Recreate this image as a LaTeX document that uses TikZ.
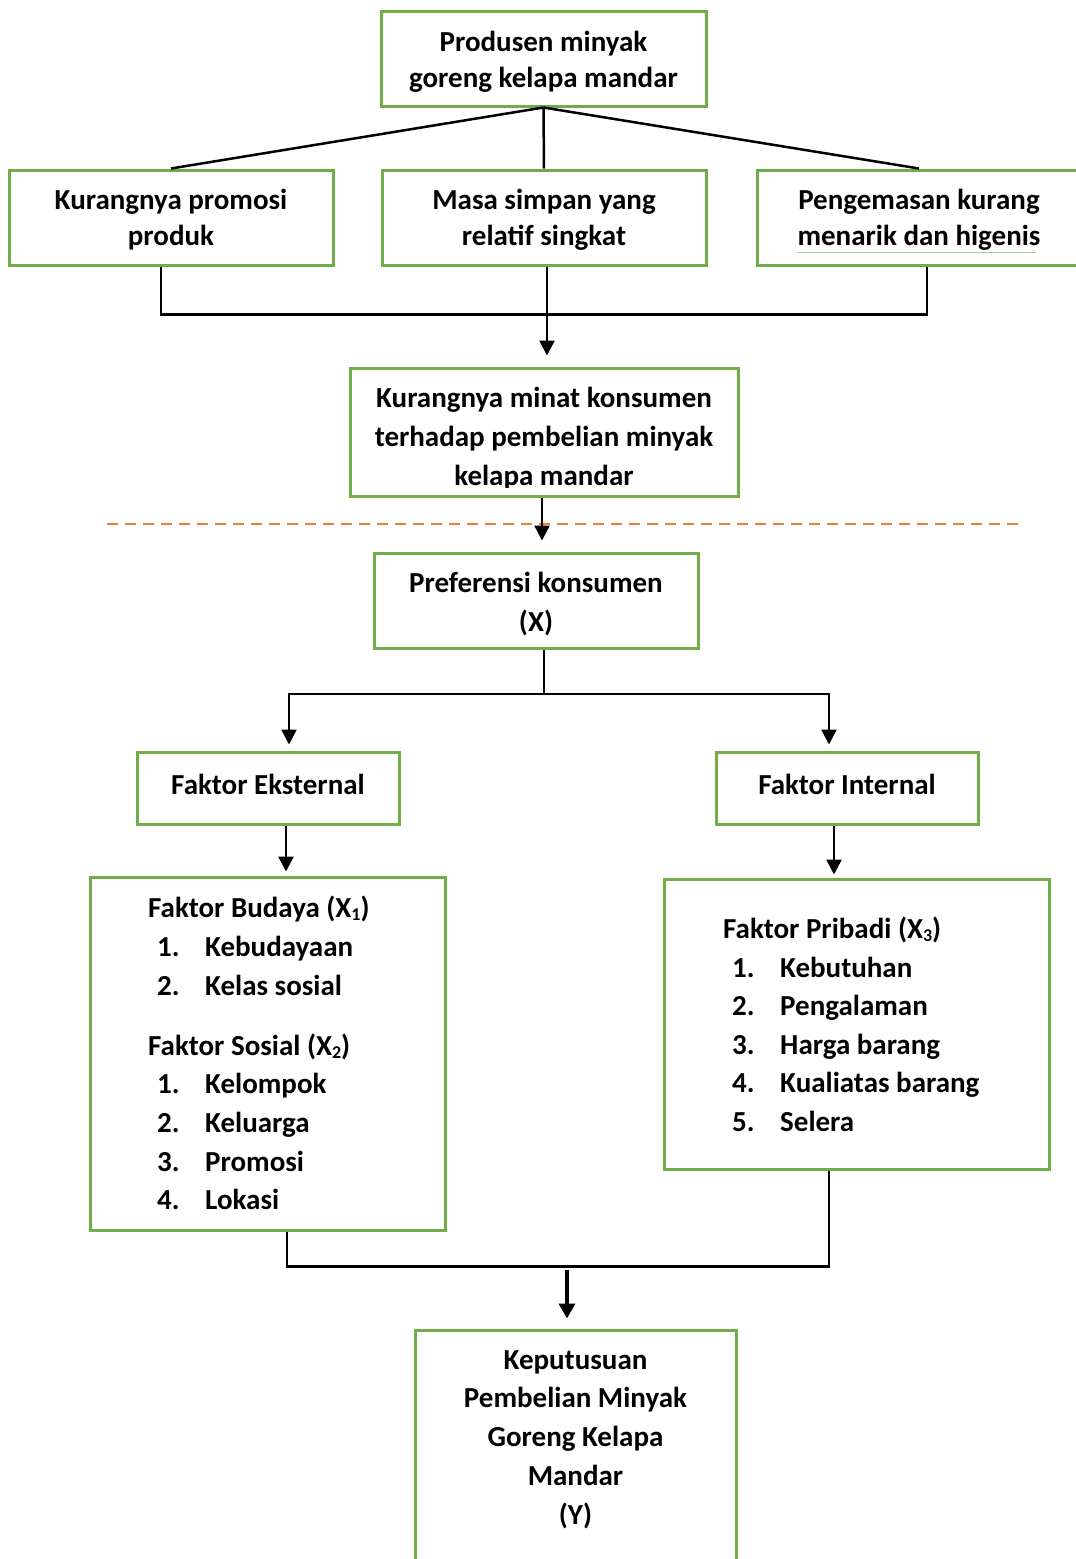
\documentclass[tikz,border=0pt]{standalone}
\usepackage{fontspec}
\setmainfont{Carlito}
\usetikzlibrary{arrows.meta}
\definecolor{boxgreen}{RGB}{112,173,71}
\definecolor{dashorange}{RGB}{237,125,49}
\newcommand{\subidx}[1]{\raisebox{-0.12em}{\fontsize{18}{18}\selectfont #1}}
\begin{document}
\begin{tikzpicture}[x=1pt,y=-1pt,
  box/.style={draw=boxgreen, line width=3pt, inner sep=0pt},
  txt/.style={font=\fontsize{29}{36}\selectfont\bfseries, align=center, inner sep=0pt},
  txtb/.style={font=\fontsize{29}{39}\selectfont\bfseries, align=center, inner sep=0pt},
  item/.style={font=\fontsize{29}{36}\selectfont\bfseries, inner sep=0pt, anchor=base west},
  conn/.style={draw=black, line width=2.5pt},
  arr/.style={conn, -{Triangle[length=15pt,width=15pt]}},
]
\useasboundingbox (0,0) rectangle (1076,1559);
\clip (0,0) rectangle (1076,1559);

% top
\node[box, minimum width=325, minimum height=95] (b0) at (543.5,58.5) {};
\node[txt] (t0) at (543.5,62) {Produsen minyak\\goreng kelapa mandar};

% second row
\node[box, minimum width=324, minimum height=95] (b1) at (171,217.5) {};
\node[txt] (t1) at (171,220) {Kurangnya promosi\\produk};
\node[box, minimum width=324, minimum height=95] (b2) at (544,217.5) {};
\node[txt] (t2) at (544,220) {Masa simpan yang\\relatif singkat};
\node[box, minimum width=324, minimum height=95] (b3) at (919,217.5) {};
\node[txt] (t3) at (919,220) {Pengemasan kurang\\menarik dan higenis};
\draw[boxgreen!60, line width=1pt] (797,252) -- (1036,252);

\draw[conn] (b0.south) -- (b1.north);
\draw[conn] (b0.south) -- (b2.north);
\draw[conn] (b0.south) -- (b3.north);

% join
\draw[conn] ([xshift=-10]b1.south) -- ++(0,48) -| ([xshift=8]b3.south);

% problem box
\node[box, minimum width=388, minimum height=128] (b4) at (544,432) {};
\begin{scope}
\clip (352,370) rectangle (736,487);
\node[txtb] (t4) at (544,439) {Kurangnya minat konsumen\\terhadap pembelian minyak\\kelapa mandar};
\end{scope}
\draw[arr, shorten >=11pt] ([xshift=3]b2.south) -- ([xshift=3]b2.south |- b4.north);

% dashed separator
\draw[dashorange, line width=2.5pt, dash pattern=on 11pt off 7pt] (107,524) -- (1023,524);

% preferensi
\node[box, minimum width=324, minimum height=95] (b5) at (536,600.5) {};
\node[txtb] (t5) at (536,604.5) {Preferensi konsumen\\(X)};
\draw[arr, shorten >=11pt] ([xshift=-2]b4.south) -- ([xshift=-2]b4.south |- b5.north);

% split
\coordinate (s5) at (544,694);
\coordinate (sl) at (289,694);
\coordinate (sr) at (829,694);
\draw[conn] ([xshift=8]b5.south) -- (s5);

\node[box, minimum width=262, minimum height=72] (b6) at (268,788) {};
\node[txt] (t6) at (268,784) {Faktor Eksternal};
\node[box, minimum width=262, minimum height=72] (b7) at (847,788) {};
\node[txt] (t7) at (847,784) {Faktor Internal};

\draw[arr, shorten >=6pt] (s5) -- (sl) -- (sl |- b6.north);
\draw[arr, shorten >=6pt] (s5) -- (sr) -- (sr |- b7.north);

% factor boxes
\node[box, minimum width=355, minimum height=353] (b8) at (267.5,1053.5) {};
\node[box, minimum width=385, minimum height=290] (b9) at (856.5,1024) {};
\draw[arr, shorten >=4pt] ([xshift=18]b6.south) -- ([xshift=18]b6.south |- b8.north);
\draw[arr, shorten >=3pt] ([xshift=-13]b7.south) -- ([xshift=-13]b7.south |- b9.north);

% Budaya list
\node[item] (h1) at (148,917) {Faktor Budaya (X\subidx{1})};
\node[item] (n11) at (157,956) {1.};
\node[item] (i11) at (205,956) {Kebudayaan};
\node[item] (n12) at (157,995) {2.};
\node[item] (i12) at (205,995) {Kelas sosial};
\node[item] (h2) at (148,1055) {Faktor Sosial (X\subidx{2})};
\node[item] (n21) at (157,1093) {1.};
\node[item] (i21) at (205,1093) {Kelompok};
\node[item] (n22) at (157,1132) {2.};
\node[item] (i22) at (205,1132) {Keluarga};
\node[item] (n23) at (157,1171) {3.};
\node[item] (i23) at (205,1171) {Promosi};
\node[item] (n24) at (157,1209) {4.};
\node[item] (i24) at (205,1209) {Lokasi};

% Pribadi list
\node[item] (h3) at (723,938) {Faktor Pribadi (X\subidx{3})};
\node[item] (n31) at (732,977) {1.};
\node[item] (i31) at (780,977) {Kebutuhan};
\node[item] (n32) at (732,1015) {2.};
\node[item] (i32) at (780,1015) {Pengalaman};
\node[item] (n33) at (732,1054) {3.};
\node[item] (i33) at (780,1054) {Harga barang};
\node[item] (n34) at (732,1092) {4.};
\node[item] (i34) at (780,1092) {Kualiatas barang};
\node[item] (n35) at (732,1131) {5.};
\node[item] (i35) at (780,1131) {Selera};

% bottom join
\draw[conn] ([xshift=19.5]b8.south) -- ++(0,35) -| ([xshift=-27.5]b9.south);

% decision box
\node[box, minimum width=321, minimum height=270] (b10) at (575.5,1465) {};
\node[font=\fontsize{29}{38.75}\selectfont\bfseries, align=center, inner sep=0pt] (t10) at (575.5,1439.5) {Keputusuan\\Pembelian Minyak\\Goreng Kelapa\\Mandar\\(Y)};
\coordinate (a10) at (567,1270);
\draw[conn, line width=3.5pt, -{Triangle[length=15pt,width=16pt]}, shorten >=10pt] (a10) -- (a10 |- b10.north);
\end{tikzpicture}
\end{document}
